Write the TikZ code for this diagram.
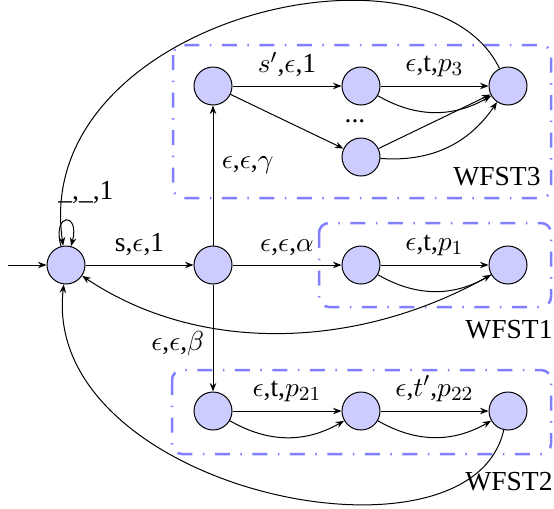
\documentclass[tikz,border=0pt]{standalone}
\usepackage{fontspec}
\setmainfont{Liberation Serif}
\usetikzlibrary{arrows.meta}
\begin{document}
\begin{tikzpicture}[x=0.4pt,y=0.4pt,
  font=\fontsize{11}{13}\selectfont,
  state/.style={circle,draw=black,fill=blue!20,minimum size=15.2pt,inner sep=0pt,line width=0.4pt},
  tr/.style={-{Stealth[length=3.4pt,width=2.6pt]},line width=0.4pt},
  wbox/.style={draw=blue!50,line width=1pt,rounded corners=4pt,dash pattern=on 6pt off 4.2pt on 0.6pt off 4.2pt}]
\useasboundingbox (0,0) rectangle (554,-508);

% sub-machine boxes
\draw[wbox] (173,-45) rectangle (551,-198);
\draw[wbox] (319,-223) rectangle (551,-307);
\draw[wbox] (172,-370) rectangle (551,-454);

% states
\node[state] (q0) at (66,-265) {};
\node[state] (q1) at (213,-265) {};
\node[state] (w1a) at (361,-265) {};
\node[state] (w1b) at (508,-265) {};
\node[state] (w3a) at (213,-86) {};
\node[state] (w3b) at (361,-86) {};
\node[state] (w3c) at (361,-157) {};
\node[state] (w3d) at (508,-86) {};
\node[state] (w2a) at (213,-411) {};
\node[state] (w2b) at (361,-411) {};
\node[state] (w2c) at (508,-411) {};

\node (dots) at (355,-121) {...};
\node (l3) at (497,-176.5) {WFST3};
\node (l1) at (509,-330) {WFST1};
\node (l2) at (509,-481.5) {WFST2};

% transitions
\coordinate (init) at (8,-265);
\draw[tr] (init) -- (q0);
\draw[tr] (q0) to[loop above] node[above,xshift=8pt,yshift=3pt] {\_,\_,1} (q0);
\draw[tr] (q0) -- node[above] {s,$\epsilon$,1} (q1);

\draw[tr] (q1) -- node[above] {$\epsilon$,$\epsilon$,$\alpha$} (w1a);
\draw[tr] (w1a) -- node[above] {$\epsilon$,t,$p_1$} (w1b);
\draw[tr] (w1a) to[bend right=30] (w1b);
\draw[tr] (w1b) .. controls (360,-350) and (200,-355) .. (q0);

\draw[tr] (q1) -- node[right,pos=0.57] {$\epsilon$,$\epsilon$,$\gamma$} (w3a);
\draw[tr] (w3a) -- node[above] {$s'$,$\epsilon$,1} (w3b);
\draw[tr] (w3a) -- (w3c);
\draw[tr] (w3b) -- node[above] {$\epsilon$,t,$p_3$} (w3d);
\draw[tr] (w3b) to[bend right=30] (w3d);
\draw[tr] (w3c) -- (w3d);
\draw[tr] (w3c) to[bend right=30] (w3d);
\draw[tr] (w3d) .. controls (430,75) and (30,-20) .. (q0);

\draw[tr] (q1) -- node[left,pos=0.55] {$\epsilon$,$\epsilon$,$\beta$} (w2a);
\draw[tr] (w2a) -- node[above] {$\epsilon$,t,$p_{21}$} (w2b);
\draw[tr] (w2a) to[bend right=30] (w2b);
\draw[tr] (w2b) -- node[above] {$\epsilon$,$t'$,$p_{22}$} (w2c);
\draw[tr] (w2b) to[bend right=30] (w2c);
\draw[tr] (w2c) .. controls (470,-580) and (40,-490) .. (q0);
\end{tikzpicture}
\end{document}
